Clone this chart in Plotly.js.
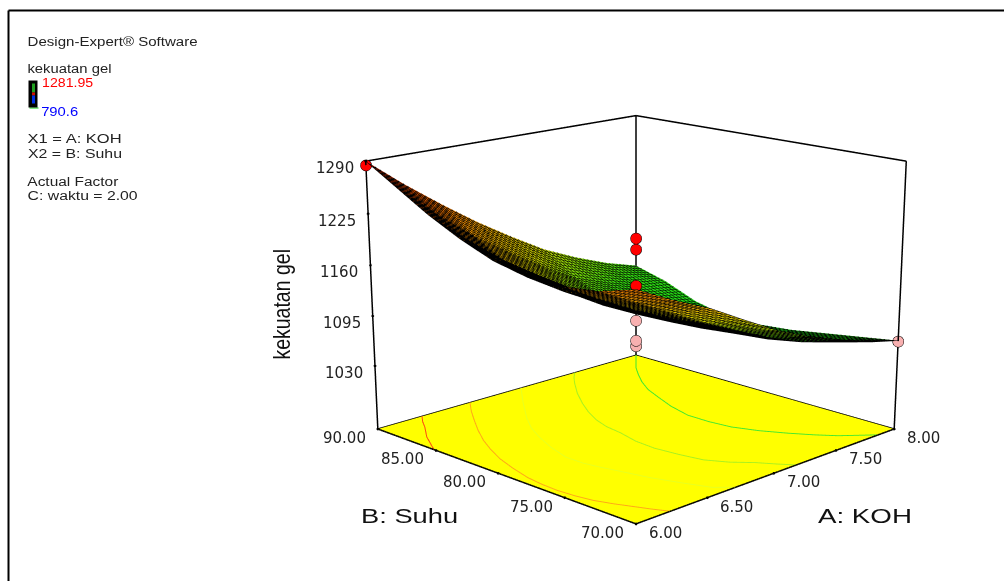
<!DOCTYPE html>
<html><head><meta charset="utf-8">
<script src="https://cdn.plot.ly/plotly-3.0.1.min.js"></script>
<style>html,body{margin:0;padding:0;width:1004px;height:581px;overflow:hidden;background:#fff}
#wrap{position:absolute;left:0;top:0;width:1004px;height:581px;overflow:hidden}
#plot{position:absolute}</style></head>
<body><div id="wrap"><div id="plot"></div></div>
<script>
const kohValues=[6,6.25,6.5,6.75,7,7.25,7.5,7.75,8];
const suhuValues=[70,72.5,75,77.5,80,82.5,85,87.5,90];
const gelStrength=[
[1215,1192,1172,1147,1123,1104,1088,1073,1063],
[1202,1178,1155,1131,1110,1090,1073,1061,1056],
[1197,1171,1147,1125,1104,1084,1065,1054,1049],
[1197,1169,1144,1120,1099,1079,1061,1047,1042],
[1206,1175,1147,1120,1098,1077,1059,1047,1038],
[1222,1187,1156,1127,1102,1080,1061,1048,1038],
[1242,1203,1167,1137,1109,1085,1068,1056,1048],
[1266,1226,1189,1158,1129,1103,1086,1072,1066],
[1290,1253,1219,1187,1158,1131,1110,1092,1078]];
const pointsAbove={koh:[6,7,7,7],suhu:[90,80,80,80],gel:[1285,1194,1180,1134]};
const pointsBelow={koh:[8,7,7,7],suhu:[70,80,80,80],gel:[1062,1089,1063,1056]};
const contourKoh=[
[6.31,6.25,6.2,6.15,6.1,6.05,6],
[6.66,6.56,6.47,6.37,6.28,6.21,6.15,6.1,6.06,6.045,6.04,6.05,6.07,6.11,6.15,6.19,6.23],
[7.05,6.87,6.7,6.6,6.53,6.46,6.41,6.41,6.43,6.46,6.5,6.56,6.62,6.7],
[7.48,7.4,7.33,7.21,7.1,7.02,6.95,6.91,6.89,6.85,6.84,6.86,6.89,6.96,7.05,7.11,7.17],
[8,7.9,7.81,7.72,7.63,7.55,7.49,7.42,7.37,7.37,7.39,7.45,7.53,7.61,7.69,7.77,7.85]];
const contourSuhu=[
[90,89.2,88.4,87.7,87,86.1,85.2],
[90,88.7,87.4,85.9,84.4,83,81.6,80,78.4,77.2,76,74.8,73.7,72.6,71.7,70.8,70],
[90,87.8,85.6,84.1,82.7,81,79.3,78,76.9,75.7,74,72.3,70.8,70],
[90,89.2,88.4,86.9,85.3,84,82.6,81.4,80.1,78.5,77,75.4,73.9,72.7,71.7,70.8,70],
[90,89,88.1,87,85.8,84.5,83.1,81.4,79.6,78,76.5,75,73.6,72.4,71.4,70.7,70]];
const contourColors=['#ff4c10','#ffa818','#e8ff20','#a8f020','#40e830'];
const zTicks=[1030,1095,1160,1225,1290];
const kohTicks=[6,6.5,7,7.5,8];
const suhuTicks=[70,75,80,85,90];
const legendLines=['Design-Expert® Software','kekuatan gel','X1 = A: KOH','X2 = B: Suhu','Actual Factor','C: waktu = 2.00'];

const W=1610,H=1610,L=635.5-W/2,T=428.5-H/2;
const el=document.getElementById('plot');
el.style.left=L+'px';el.style.top=T+'px';el.style.width=W+'px';el.style.height=H+'px';
const px=x=>(x-L)/W, py=y=>1-(y-T)/H;
const zMin=946,zMax=1290;
function seg(a,b){return {type:'scatter3d',mode:'lines',x:[a[0],b[0]],y:[a[1],b[1]],z:[a[2],b[2]],line:{color:'#000',width:3},hoverinfo:'skip',showlegend:false};}
const traces=[];
const flat={ambient:1,diffuse:0,specular:0,roughness:1,fresnel:0};
traces.push({type:'surface',x:kohValues,y:suhuValues,z:gelStrength,cmin:1039,cmax:1290,showscale:false,
 colorscale:[[0,'#18d818'],[0.15,'#30d810'],[0.38,'#c8d000'],[0.62,'#f09000'],[1,'#f02000']],lighting:flat,
 contours:{x:{show:true,start:6,end:8,size:0.03,color:'#000',width:3},y:{show:true,start:70,end:90,size:0.3,color:'#000',width:3}},hoverinfo:'skip'});
traces.push({type:'surface',x:[6,8],y:[70,90],z:[[zMin,zMin],[zMin,zMin]],showscale:false,colorscale:[[0,'#ffff00'],[1,'#ffff00']],lighting:flat,hoverinfo:'skip'});
contourKoh.forEach((k,i)=>traces.push({type:'scatter3d',mode:'lines',x:k,y:contourSuhu[i],z:k.map(()=>zMin+0.5),line:{color:contourColors[i],width:2},hoverinfo:'skip',showlegend:false}));
[[[6,70,zMin],[8,70,zMin]],[[8,70,zMin],[8,90,zMin]],[[8,90,zMin],[6,90,zMin]],[[6,90,zMin],[6,70,zMin]],
 [[6,90,zMin],[6,90,zMax]],[[8,70,zMin],[8,70,zMax]],[[8,90,zMin],[8,90,zMax]],
 [[6,90,zMax],[8,90,zMax]],[[8,90,zMax],[8,70,zMax]]].forEach(s=>traces.push(seg(s[0],s[1])));
const mk=(p,c)=>({type:'scatter3d',mode:'markers',x:p.koh,y:p.suhu,z:p.gel,marker:{size:6.5,color:c,line:{color:'#000',width:1}},hoverinfo:'skip',showlegend:false});
traces.push(mk(pointsAbove,'#ff0000'));traces.push(mk(pointsBelow,'#f8b0b0'));
traces.push({type:'scatter3d',mode:'markers',x:[...zTicks.map(()=>6),...kohTicks,...suhuTicks.map(()=>6)],y:[...zTicks.map(()=>90),...kohTicks.map(()=>70),...suhuTicks],z:[...zTicks,...kohTicks.map(()=>zMin),...suhuTicks.map(()=>zMin)],marker:{size:1.6,color:'#000'},hoverinfo:'skip',showlegend:false});

const tickFont={family:'DejaVu Sans',size:15,color:'#222'};
const scAnn=[];
zTicks.forEach(z=>scAnn.push({x:6,y:90,z:z,text:String(z),showarrow:false,xanchor:'right',xshift:-10,yshift:-7,font:tickFont}));
kohTicks.forEach(k=>scAnn.push({x:k,y:70,z:zMin,text:k.toFixed(2),showarrow:false,xanchor:'left',xshift:11,yshift:-9,font:tickFont}));
suhuTicks.forEach(s=>scAnn.push({x:6,y:s,z:zMin,text:s.toFixed(2),showarrow:false,xanchor:'right',xshift:-10,yshift:-9,font:tickFont}));

const FF='Liberation Sans, Arial';
const stretch={};
const txt=(x,y,t,c,s,w,extra)=>{stretch[t]=w;return Object.assign({xref:'paper',yref:'paper',x:px(x+w/2),y:py(y),text:t,showarrow:false,xanchor:'center',yanchor:'middle',font:{family:FF,size:s,color:c}},extra||{});};
const anns=[
 txt(27,41,legendLines[0],'#222',12.5,170),txt(27,69,legendLines[1],'#222',12.5,84),
 txt(41.5,83,'1281.95','#ff0000',12.5,51),txt(40.5,111,'790.6','#0000ff',12.5,37),
 txt(27,139,legendLines[2],'#222',12.5,94),txt(27,153,legendLines[3],'#222',12.5,94),
 txt(27,181,legendLines[4],'#222',12.5,91),txt(27,195,legendLines[5],'#222',12.5,110),
 txt(360,515,'B: Suhu','#111',20,97),txt(817.5,515,'A: KOH','#111',20,94)
];
stretch['kekuatan gel ']=116;
anns.push({xref:'paper',yref:'paper',x:px(281),y:py(301),text:'kekuatan gel ',showarrow:false,textangle:-90,xanchor:'center',yanchor:'middle',font:{family:FF,size:24,color:'#111'}});
const rect=(x0,y0,x1,y1,fill)=>({type:'rect',xref:'paper',yref:'paper',x0:px(x0),x1:px(x1),y0:py(y0),y1:py(y1),fillcolor:fill,line:{width:0}});
const shapes=[
 {type:'line',xref:'paper',yref:'paper',x0:px(8),x1:px(8),y0:py(10),y1:py(581),line:{color:'#000',width:2}},
 {type:'line',xref:'paper',yref:'paper',x0:px(8),x1:px(1004),y0:py(10),y1:py(10),line:{color:'#000',width:2}},
 rect(29,107,38,108,'#00d000'),rect(28,80,37,107,'#000'),rect(31.5,83,34.5,92,'#20a020'),rect(31.5,92,34.5,95,'#d01000'),rect(31.5,95,34.5,103,'#0030e0')];
const hidden={showgrid:false,zeroline:false,showticklabels:false,showline:false,showbackground:false,ticks:'',title:{text:''},showspikes:false};
const layout={width:W,height:H,margin:{l:0,r:0,t:0,b:0},paper_bgcolor:'rgba(0,0,0,0)',showlegend:false,annotations:anns,shapes:shapes,
 scene:{domain:{x:[0,1],y:[0,1]},aspectmode:'manual',aspectratio:{x:1.01,y:1.01,z:0.7443},
  xaxis:Object.assign({range:[5.99,8.01]},hidden),yaxis:Object.assign({range:[69.9,90.1]},hidden),zaxis:Object.assign({range:[zMin-1,zMax+1]},hidden),
  annotations:scAnn,
  camera:{eye:{x:-3.564,y:-3.564,z:1.34},center:{x:0,y:0,z:-0.37},up:{x:0,y:0,z:1},projection:{type:'perspective'}}}};
function applyStretch(){document.querySelectorAll('.annotation-text').forEach(t=>{const k=t.textContent;if(stretch[k]){t.setAttribute('textLength',stretch[k]);t.setAttribute('lengthAdjust','spacingAndGlyphs');}});}
Plotly.newPlot(el,traces,layout,{displayModeBar:false}).then(()=>{applyStretch();el.on('plotly_afterplot',applyStretch);[200,600,1200].forEach(d=>setTimeout(applyStretch,d));});
</script></body></html>
